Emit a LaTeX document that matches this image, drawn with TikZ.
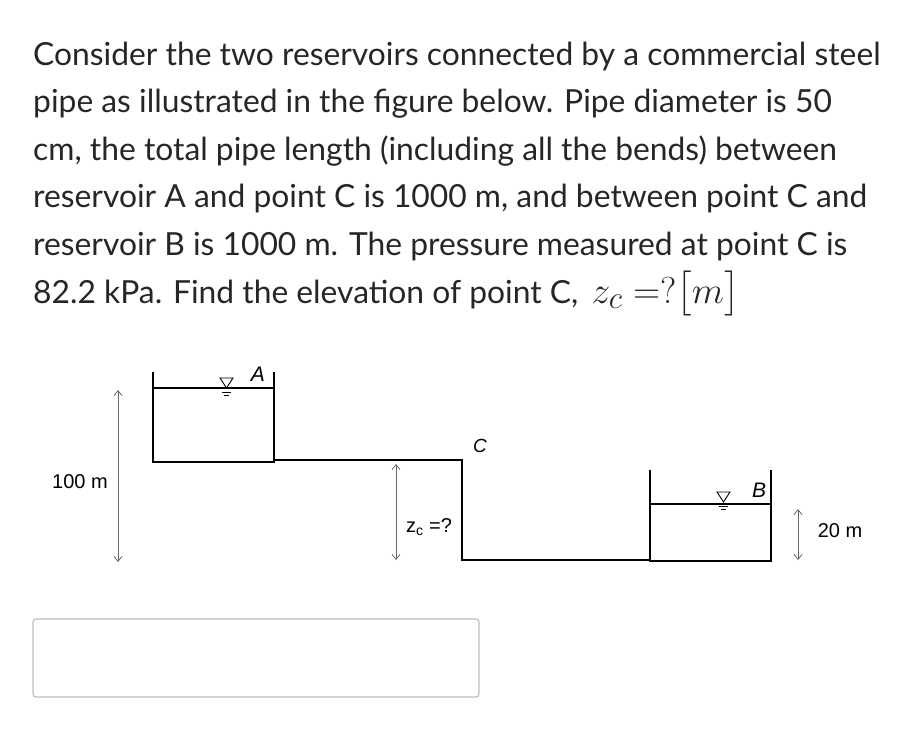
\documentclass[tikz,border=0pt]{standalone}
\usepackage{fontspec}
\usepackage{amsmath}
\usepackage{graphicx}
\setmainfont{Lato}
\newfontfamily\arial{Liberation Sans}
\usetikzlibrary{arrows.meta}
\begin{document}
\begin{tikzpicture}[x=1pt,y=-1pt,
  txt/.style={anchor=base west,inner sep=0pt,font=\fontsize{31.8}{36}\selectfont,text=black!85},
  wall/.style={line width=2.5pt,black},
  thin/.style={line width=1.2pt,black},
  dim/.style={line width=0.8pt,black!60,<->,>={Straight Barb[length=5pt,width=8pt]}},
  lab/.style={font=\arial\fontsize{21}{24}\selectfont,inner sep=0pt}]
\useasboundingbox (0,0) rectangle (900,730);
\node[txt] (l1) at (33,66) {Consider the two reservoirs connected by a commercial steel};
\node[txt] (l2) at (33,113) {pipe as illustrated in the figure below. Pipe diameter is 50};
\node[txt] (l3) at (33,161) {cm, the total pipe length (including all the bends) between};
\node[txt] (l4) at (33,208) {reservoir A and point C is 1000 m, and between point C and};
\node[txt] (l5) at (33,256) {reservoir B is 1000 m. The pressure measured at point C is};
\node[txt] (l6) at (33,303) {82.2 kPa. Find the elevation of point C, \,\resizebox{148pt}{!}{$z_c = ?\bigl[m\bigr]$}};
% reservoir A
\draw[wall] (153,372) -- (153,462) -- (274,462) -- (274,372);
\draw[thin] (153,388) -- (274,388);
\draw[line width=0.9pt] (220,378) -- (233,378) -- (226.5,388) -- cycle;
\draw[line width=0.7pt] (222,392) -- (231,392) (224,395) -- (229,395);
\node[lab,font=\arial\itshape\fontsize{21}{24}\selectfont] (A) at (258,374) {A};
% pipe
\draw[wall] (274,460) -- (462,460) -- (462,560) -- (650,560);
\node[lab,font=\arial\itshape\fontsize{19}{24}\selectfont] (C) at (480,446) {C};
% reservoir B
\draw[wall] (650,470) -- (650,561) -- (771,561) -- (771,470);
\draw[thin] (650,504) -- (771,504);
\draw[line width=0.9pt] (717,492) -- (730,492) -- (723.5,502) -- cycle;
\draw[line width=0.7pt] (719,506) -- (728,506) (721,509) -- (726,509);
\node[lab,font=\arial\itshape\fontsize{21}{24}\selectfont] (B) at (759,490) {B};
% dims
\coordinate (d1a) at (118,390); \coordinate (d1b) at (118,562);
\draw[dim] (d1a) -- (d1b);
\node[lab,font=\arial\fontsize{20}{24}\selectfont] (h100) at (80,482) {100 m};
\coordinate (d2a) at (396,464); \coordinate (d2b) at (396,560);
\draw[dim] (d2a) -- (d2b);
\node[lab,font=\arial\fontsize{20}{24}\selectfont] (zc) at (429,527) {z\textsubscript{c} =?};
\coordinate (d3a) at (798,509); \coordinate (d3b) at (798,560);
\draw[dim] (d3a) -- (d3b);
\node[lab,font=\arial\fontsize{20}{24}\selectfont] (h20) at (840,531) {20 m};
% answer box
\draw[black!25,line width=1.2pt,rounded corners=3pt] (33,619) rectangle (479,697);
\end{tikzpicture}
\end{document}
